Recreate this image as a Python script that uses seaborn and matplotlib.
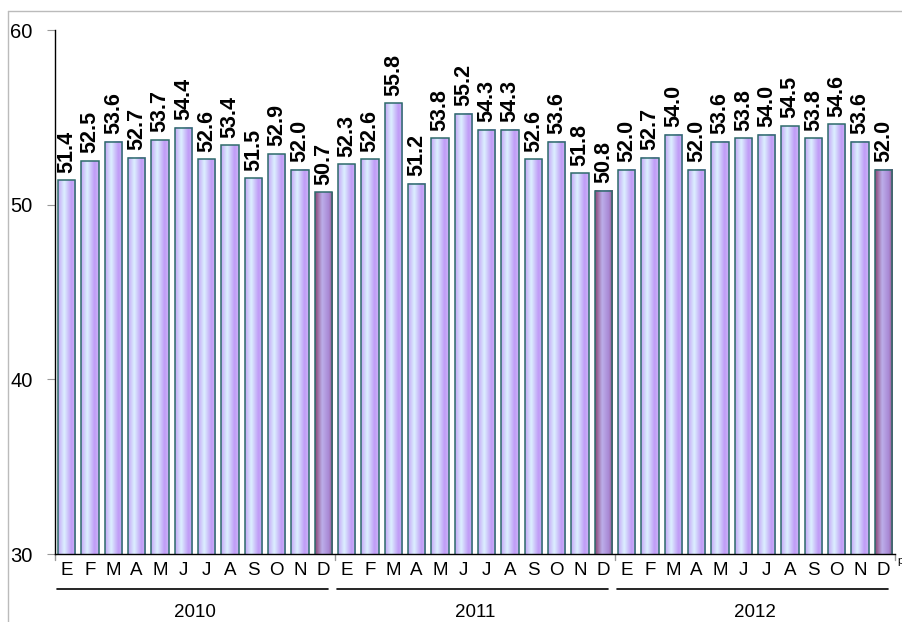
import numpy as np
import pandas as pd
import matplotlib
matplotlib.use("Agg")
import matplotlib.pyplot as plt
import matplotlib.transforms as mtransforms
from matplotlib.colors import to_rgb
from matplotlib.lines import Line2D
import seaborn as sns

# ---- data ----
years = ["2010", "2011", "2012"]
months = ["E", "F", "M", "A", "M", "J", "J", "A", "S", "O", "N", "D"]
values_2010 = [51.4, 52.5, 53.6, 52.7, 53.7, 54.4, 52.6, 53.4, 51.5, 52.9, 52.0, 50.7]
values_2011 = [52.3, 52.6, 55.8, 51.2, 53.8, 55.2, 54.3, 54.3, 52.6, 53.6, 51.8, 50.8]
values_2012 = [52.0, 52.7, 54.0, 52.0, 53.6, 53.8, 54.0, 54.5, 53.8, 54.6, 53.6, 52.0]
y_ticks = [30, 40, 50, 60]

all_values = values_2010 + values_2011 + values_2012
slots = [f"{y}-{i:02d}" for y in years for i in range(12)]
month_labels = months * 3
is_dec = [i % 12 == 11 for i in range(len(slots))]

df = pd.DataFrame({"slot": slots, "value": all_values})

sns.set_style("white")
plt.rcParams["font.family"] = ["Liberation Sans", "DejaVu Sans"]
plt.rcParams["text.color"] = "black"
plt.rcParams["xtick.labelcolor"] = "black"
plt.rcParams["ytick.labelcolor"] = "black"

fig = plt.figure(figsize=(9.02, 6.22), dpi=100)
ax = fig.add_axes([55 / 902, 1 - 554 / 622, (895 - 55) / 902, (554 - 30) / 622])

Y_MIN, Y_MAX = 30, 60

sns.barplot(data=df, x="slot", y="value", hue="slot", palette=["#ccccff"] * len(slots),
            legend=False, width=0.73, ax=ax, saturation=1)

ax.set_ylim(Y_MIN, Y_MAX)
ax.set_xlim(-0.5, len(slots) - 0.5)


def gradient(stops, n=80):
    pos = [p for p, _ in stops]
    cols = np.array([to_rgb(c) for _, c in stops])
    t = np.linspace(0, 1, n)
    arr = np.stack([np.interp(t, pos, cols[:, k]) for k in range(3)], axis=1)
    return arr[None, :, :]


normal_grad = gradient([(0.0, "#c4a6f6"), (0.35, "#dcf0ff"), (0.75, "#c09cf6"),
                        (1.0, "#ccb4f8")])
dec_grad = gradient([(0.0, "#8a4672"), (0.4, "#bcaeea"), (0.78, "#a888d4"),
                     (1.0, "#924e78")])

for patch, dec in zip(ax.patches, is_dec):
    x0 = patch.get_x()
    w = patch.get_width()
    h = patch.get_height()
    y0 = patch.get_y()
    top = y0 + h
    patch.set_facecolor("none")
    patch.set_edgecolor("#2e6b6b")
    patch.set_linewidth(1.1)
    patch.set_zorder(3)
    ax.imshow(dec_grad if dec else normal_grad, extent=(x0, x0 + w, Y_MIN, top),
              aspect="auto", zorder=2, interpolation="bilinear")

ax.set_ylim(Y_MIN, Y_MAX)
ax.set_xlim(-0.5, len(slots) - 0.5)

# value labels
for i, v in enumerate(all_values):
    ax.annotate(f"{v:.1f}", (i, v), xytext=(0, 5.5), textcoords="offset points",
                rotation=90, ha="center", va="bottom", fontsize=15.5,
                fontweight="bold", color="black")

# axes styling
for s in ["top", "right"]:
    ax.spines[s].set_visible(False)
for s in ["left", "bottom"]:
    ax.spines[s].set_color("black")
    ax.spines[s].set_linewidth(1.0)
    ax.spines[s].set_zorder(4)

ax.set_yticks(y_ticks)
ax.set_yticklabels([str(t) for t in y_ticks], fontsize=14.5)
ax.tick_params(axis="y", length=6, color="#999999", pad=10, left=True, labelcolor="black")
ax.set_xticks(range(len(slots)))
ax.set_xticklabels(month_labels, fontsize=13.5)
ax.tick_params(axis="x", length=0, pad=6, labelcolor="black")
ax.set_xlabel("")
ax.set_ylabel("")

trans = mtransforms.blended_transform_factory(ax.transData, ax.transAxes)
# group boundary ticks
for b in [-0.5, 11.5, 23.5, 35.5]:
    ax.add_line(Line2D([b, b], [0, -0.012], transform=trans, color="#999999",
                       lw=1, clip_on=False))

# year underline and labels
for k, y in enumerate(years):
    start = k * 12 - 0.4
    end = k * 12 + 11.2
    ax.add_line(Line2D([start, end], [-0.067, -0.067], transform=trans, color="black",
                       lw=1.2, clip_on=False))
    ax.text(k * 12 + 5.5, -0.112, y, transform=trans, ha="center", va="center",
            fontsize=13.5, color="black", clip_on=False)

# preliminary marker
ax.text(35.6, -0.014, "p", transform=trans, ha="left", va="center", fontsize=8,
        color="black", clip_on=False)

# outer frame
fig.add_artist(Line2D([8 / 902, 8 / 902], [0, 1 - 11 / 622], transform=fig.transFigure,
                      color="#bbbbbb", lw=1))
fig.add_artist(Line2D([8 / 902, 1], [1 - 11 / 622, 1 - 11 / 622], transform=fig.transFigure,
                      color="#bbbbbb", lw=1))

fig.savefig("out.png", dpi=100)
